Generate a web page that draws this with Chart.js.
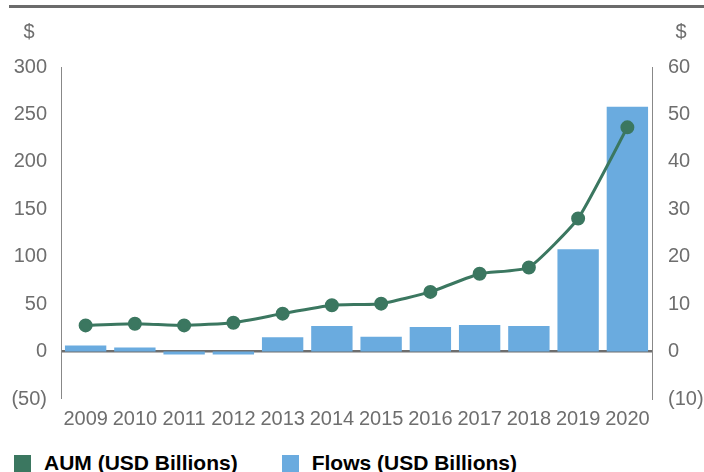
<!DOCTYPE html>
<html lang="en">
<head>
  <meta charset="UTF-8">
  <title>AUM and Flows</title>
  <style>
    body { margin: 0; padding: 0; background: #fff; font-family: "Liberation Sans", Arial, sans-serif; }
    #wrap { position: relative; width: 704px; height: 472px; overflow: hidden; }
    #topline { position: absolute; left: 9px; right: 0; top: 5px; height: 3px; background: #6b6b6b; }
    #chart-box { position: absolute; left: 0; top: 0; width: 704px; height: 431px; }
    #legend { position: absolute; left: 14px; top: 451px; display: flex; font-weight: bold; font-size: 21px; color: #000; }
    .item { display: flex; align-items: center; margin-right: 44px; }
    .box { width: 17px; height: 17px; margin-right: 13px; }
  </style>
  <script src="https://cdn.jsdelivr.net/npm/chart.js"></script>
</head>
<body>
  <div id="wrap">
    <div id="topline"></div>
    <div id="chart-box"><canvas id="chart"></canvas></div>
    <div id="legend"></div>
  </div>
  <script>
    // Daten (AUM auf linker Achse, Flows auf rechter Achse)
    const years = ['2009','2010','2011','2012','2013','2014','2015','2016','2017','2018','2019','2020'];
    const aum = [27.6, 29.4, 27.6, 30.4, 40, 48.8, 50.5, 62.9, 82, 88.7, 140.3, 236.4];
    const flows = [1.3, 0.85, -0.6, -0.6, 3.0, 5.4, 3.1, 5.2, 5.6, 5.4, 21.6, 51.6];
    const labelAum = 'AUM (USD Billions)';
    const labelFlows = 'Flows (USD Billions)';

    const GREEN = '#3b7760';
    const BLUE = '#6aabdf';
    const GREY = '#6e6e6e';

    function fmt(v) {
      return v < 0 ? '(' + Math.abs(v) + ')' : String(v);
    }

    // "$" ueber beiden Achsen
    const dollarPlugin = {
      id: 'dollar',
      afterDraw(chart) {
        const ctx = chart.ctx;
        ctx.save();
        ctx.font = '20px "Liberation Sans", Arial, sans-serif';
        ctx.fillStyle = GREY;
        ctx.textAlign = 'center';
        ctx.textBaseline = 'middle';
        ctx.fillText('$', 29, 32);
        ctx.fillText('$', 681, 32);
        ctx.restore();
      }
    };

    new Chart(document.getElementById('chart'), {
      data: {
        labels: years,
        datasets: [
          {
            type: 'line',
            label: labelAum,
            data: aum,
            yAxisID: 'y',
            borderColor: GREEN,
            backgroundColor: GREEN,
            borderWidth: 3,
            pointRadius: 5.5,
            pointHoverRadius: 5.5,
            tension: 0.15,
            order: 0
          },
          {
            type: 'bar',
            label: labelFlows,
            data: flows,
            yAxisID: 'y2',
            backgroundColor: BLUE,
            barPercentage: 0.84,
            categoryPercentage: 1.0,
            order: 1
          }
        ]
      },
      options: {
        responsive: true,
        maintainAspectRatio: false,
        animation: false,
        layout: { padding: { top: 67, left: 0, right: 0, bottom: 0 } },
        plugins: { legend: { display: false }, tooltip: { enabled: false } },
        scales: {
          x: {
            grid: { display: false },
            border: { display: false },
            ticks: {
              color: GREY,
              font: { size: 20, family: '"Liberation Sans", Arial, sans-serif' },
              maxRotation: 0,
              autoSkip: false,
              padding: 0
            }
          },
          y: {
            position: 'left',
            min: -50,
            max: 300,
            ticks: {
              stepSize: 50,
              color: GREY,
              font: { size: 20, family: '"Liberation Sans", Arial, sans-serif' },
              padding: 14,
              callback: v => fmt(v)
            },
            border: { display: true, color: '#888', width: 1 },
            grid: {
              drawTicks: false,
              color: c => c.tick.value === 0 ? '#6e6e6e' : 'rgba(0,0,0,0)',
              lineWidth: c => c.tick.value === 0 ? 2.5 : 0
            },
            afterFit: s => { s.width = 61; }
          },
          y2: {
            position: 'right',
            min: -10,
            max: 60,
            ticks: {
              stepSize: 10,
              color: GREY,
              font: { size: 20, family: '"Liberation Sans", Arial, sans-serif' },
              padding: 16,
              callback: v => fmt(v)
            },
            border: { display: true, color: '#888', width: 1 },
            grid: { display: false, drawTicks: false },
            afterFit: s => { s.width = 52; }
          }
        }
      },
      plugins: [dollarPlugin]
    });

    // Legende
    const legend = document.getElementById('legend');
    [[labelAum, GREEN], [labelFlows, BLUE]].forEach(([txt, col]) => {
      const it = document.createElement('div');
      it.className = 'item';
      it.innerHTML = '<span class="box" style="background:' + col + '"></span><span>' + txt + '</span>';
      legend.appendChild(it);
    });
  </script>
</body>
</html>
